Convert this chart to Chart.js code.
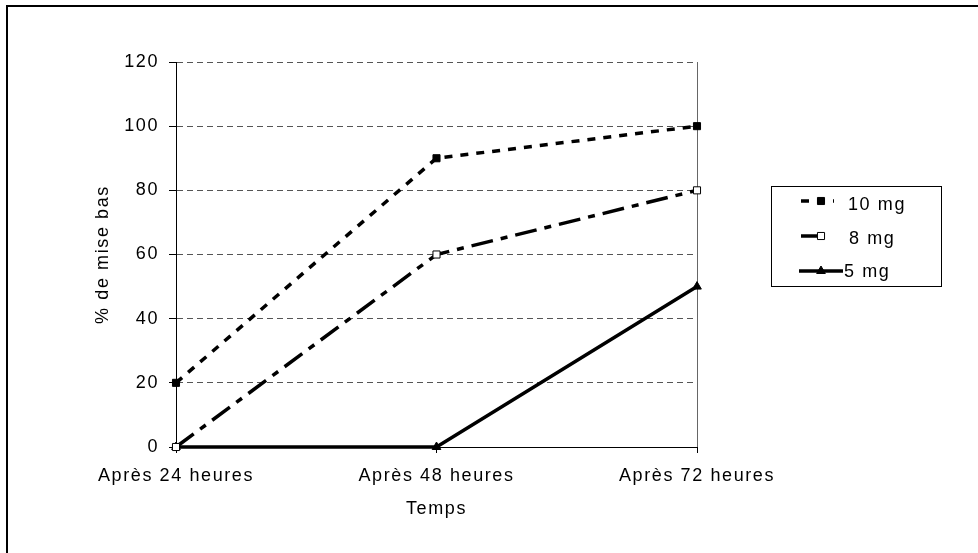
<!DOCTYPE html>
<html>
<head>
<meta charset="utf-8">
<script src="https://cdn.jsdelivr.net/npm/chart.js@4.4.1/dist/chart.umd.min.js"></script>
<style>
  html, body { margin: 0; padding: 0; background: #fff; }
  #wrap { position: absolute; left: 0; top: 0; width: 978px; height: 553px; }
</style>
</head>
<body>
<div id="wrap"><canvas id="c" width="978" height="553"></canvas></div>
<script>
const categories = ['Après 24 heures', 'Après 48 heures', 'Après 72 heures'];
const seriesNames = ['10 mg', '8 mg', '5 mg'];
const dose10 = [20, 90, 100];
const dose8 = [0, 60, 80];
const dose5 = [0, 0, 50];
const yMin = 0, yMax = 120, yStep = 20;
const xTitle = 'Temps';
const yTitle = '% de mise bas';

const FONT = "'Liberation Sans', Arial, sans-serif";
const FS = 18;
const LS = '1.6px';

function setLS(chart) {
  try { chart.ctx.letterSpacing = LS; } catch (e) {}
}

const letterSpacingPlugin = {
  id: 'ls',
  beforeUpdate(chart) { setLS(chart); },
  beforeLayout(chart) { setLS(chart); },
  beforeDraw(chart) { setLS(chart); }
};

function drawMarker(ctx, style, x, y, r, fill) {
  ctx.save();
  ctx.setLineDash([]);
  ctx.lineWidth = 1;
  ctx.strokeStyle = '#000';
  ctx.fillStyle = fill;
  ctx.beginPath();
  if (style === 'rect') {
    const s = Math.SQRT1_2 * r;
    ctx.rect(x - s, y - s, 2 * s, 2 * s);
  } else {
    const a = r;
    ctx.moveTo(x, y - a);
    ctx.lineTo(x + a * 0.866, y + a * 0.5);
    ctx.lineTo(x - a * 0.866, y + a * 0.5);
    ctx.closePath();
  }
  ctx.fill();
  ctx.stroke();
  ctx.restore();
}

const framePlugin = {
  id: 'frame',
  afterDraw(chart) {
    const ctx = chart.ctx;
    ctx.save();
    ctx.setLineDash([]);
    ctx.strokeStyle = '#000';
    ctx.lineWidth = 2;
    ctx.beginPath();
    ctx.moveTo(7, 553);
    ctx.lineTo(7, 6);
    ctx.lineTo(978, 6);
    ctx.stroke();

    ctx.lineWidth = 1;
    ctx.strokeRect(771.5, 186.5, 170, 100);

    const rows = [
      { lineY: 201, textY: 205, x0: 801, x1: 834, mx: 821, textX: 848 },
      { lineY: 236, textY: 239, x0: 801, x1: 828, mx: 821, textX: 849 },
      { lineY: 271, textY: 272, x0: 799, x1: 843, mx: 821, textX: 844 }
    ];
    chart.data.datasets.forEach((ds, i) => {
      const r = rows[i];
      ctx.save();
      ctx.strokeStyle = ds.borderColor;
      ctx.lineWidth = ds.borderWidth;
      ctx.setLineDash(ds.borderDash || []);
      ctx.beginPath();
      ctx.moveTo(r.x0, r.lineY);
      ctx.lineTo(r.x1, r.lineY);
      ctx.stroke();
      ctx.restore();
      drawMarker(ctx, ds.pointStyle, r.mx, r.lineY, ds.pointRadius, ds.pointBackgroundColor);
      ctx.save();
      try { ctx.letterSpacing = LS; } catch (e) {}
      ctx.fillStyle = '#000';
      ctx.font = FS + 'px ' + FONT;
      ctx.textAlign = 'left';
      ctx.textBaseline = 'middle';
      ctx.fillText(ds.label, r.textX, r.textY);
      ctx.restore();
    });
    ctx.restore();
  }
};

const datasets = [
  {
    label: seriesNames[0], data: dose10,
    borderColor: '#000', borderWidth: 3.5, borderDash: [8, 8],
    pointStyle: 'rect', pointRadius: 5, pointBackgroundColor: '#000',
    pointBorderColor: '#000', pointBorderWidth: 1
  },
  {
    label: seriesNames[1], data: dose8,
    borderColor: '#000', borderWidth: 3.5, borderDash: [22, 8, 7, 8],
    pointStyle: 'rect', pointRadius: 5, pointBackgroundColor: '#fff',
    pointBorderColor: '#000', pointBorderWidth: 1
  },
  {
    label: seriesNames[2], data: dose5,
    borderColor: '#000', borderWidth: 3.5, borderDash: [],
    pointStyle: 'triangle', pointRadius: 5, pointBackgroundColor: '#000',
    pointBorderColor: '#000', pointBorderWidth: 1
  }
].map(d => Object.assign(d, { fill: false, tension: 0, clip: false }));

new Chart(document.getElementById('c'), {
  type: 'line',
  data: { labels: categories, datasets },
  plugins: [letterSpacingPlugin, framePlugin],
  options: {
    responsive: false,
    animation: false,
    devicePixelRatio: 1,
    layout: { padding: { left: 0, right: 281, top: 62, bottom: 0 } },
    plugins: { legend: { display: false }, tooltip: { enabled: false } },
    scales: {
      x: {
        type: 'category',
        offset: false,
        afterFit(scale) { scale.height = 106; },
        border: { display: true, color: '#000', width: 1 },
        grid: {
          drawOnChartArea: true,
          drawTicks: true,
          tickLength: 6,
          tickColor: '#000',
          tickWidth: 1,
          lineWidth: 1,
          color: (c) => (c.index === 2 ? '#666' : 'rgba(0,0,0,0)')
        },
        ticks: {
          color: '#000', padding: 12, maxRotation: 0, autoSkip: false,
          font: { family: FONT, size: FS }
        },
        title: {
          display: true, text: xTitle, color: '#000',
          font: { family: FONT, size: FS },
          padding: { top: 0, bottom: 33 }
        }
      },
      y: {
        min: yMin, max: yMax,
        afterFit(scale) { scale.width = 176; },
        border: { display: true, color: '#000', width: 1, dash: [6, 4] },
        grid: {
          drawTicks: true,
          tickLength: 7,
          tickColor: '#000',
          tickWidth: 1,
          tickBorderDash: [1, 0],
          lineWidth: 1,
          color: (c) => (c.index === 0 ? 'rgba(0,0,0,0)' : '#555')
        },
        ticks: {
          stepSize: yStep, color: '#000', padding: 10,
          font: { family: FONT, size: FS }
        },
        title: {
          display: true, text: yTitle, color: '#000',
          font: { family: FONT, size: FS },
          padding: { top: 92, bottom: 0 }
        }
      }
    }
  }
});
</script>
</body>
</html>
